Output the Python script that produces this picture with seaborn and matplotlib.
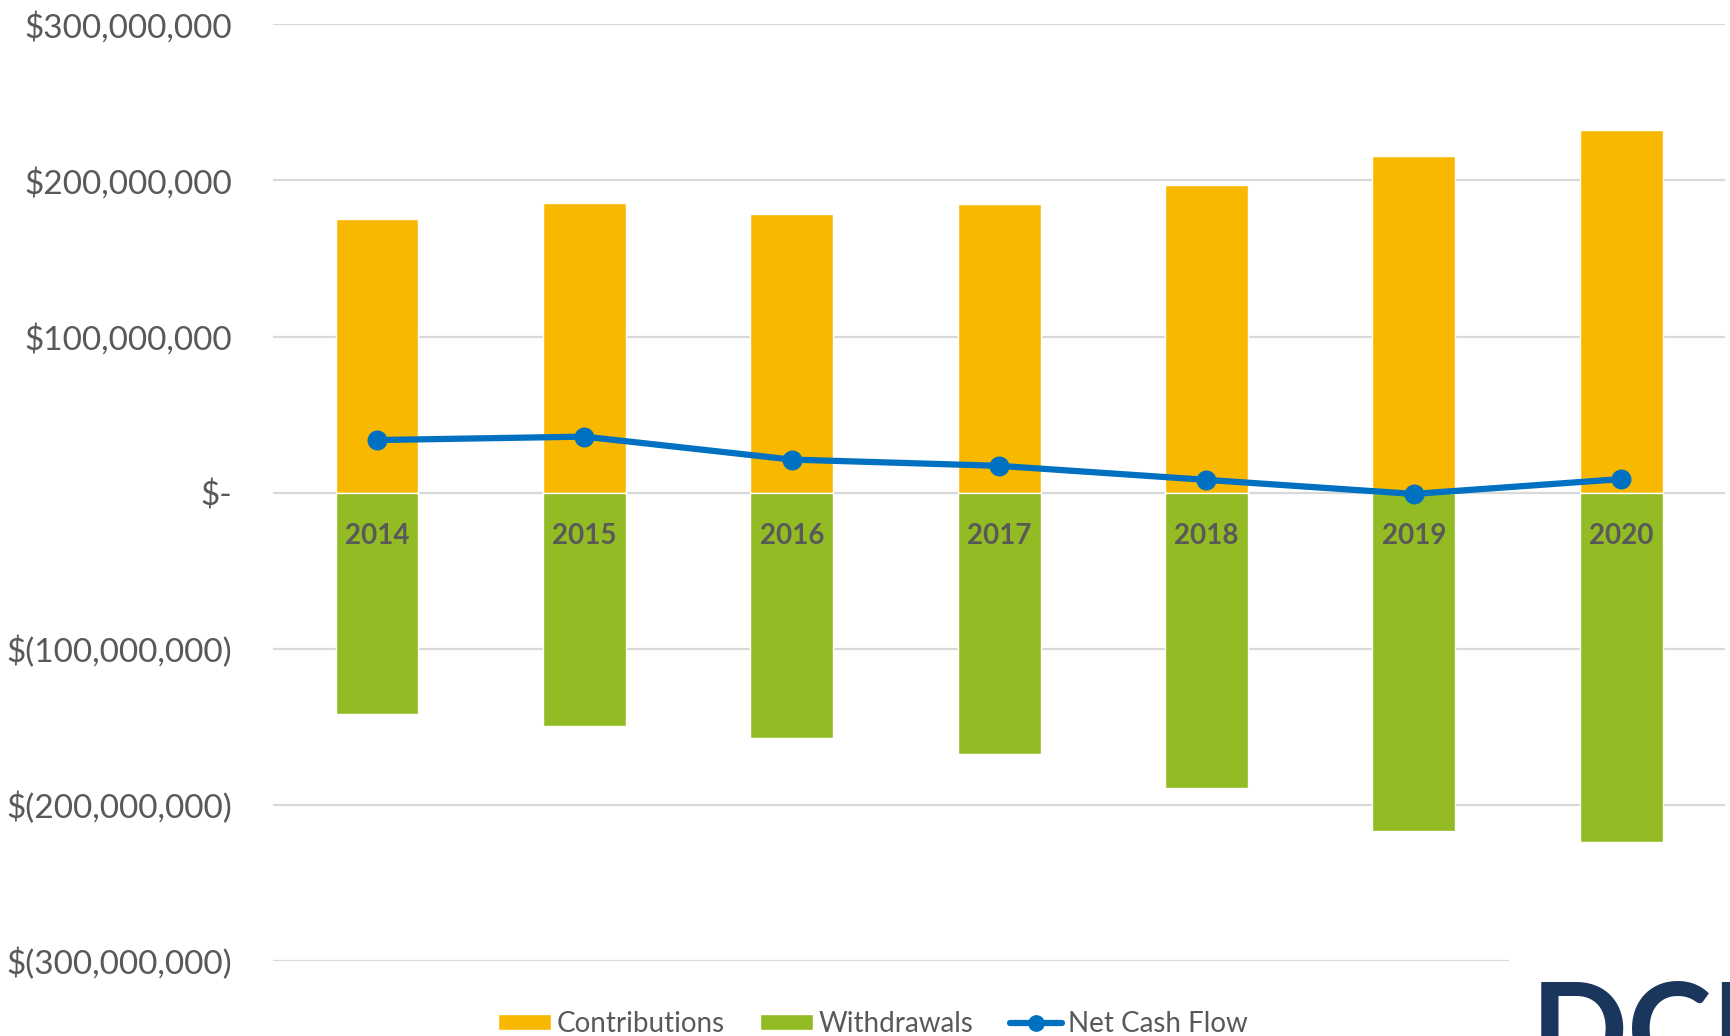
import numpy as np
import pandas as pd
import seaborn as sns
import matplotlib.pyplot as plt
from matplotlib.patches import Patch, Rectangle
from matplotlib.lines import Line2D

# Data (in millions of dollars)
years = ['2014', '2015', '2016', '2017', '2018', '2019', '2020']
contributions = [175.2, 185.3, 178.4, 184.8, 197.0, 215.4, 232.2]
withdrawals = [-141.5, -149.2, -156.9, -167.6, -189.1, -216.5, -223.5]
net_cash_flow = [33.7, 35.9, 21.2, 17.2, 8.2, -0.8, 8.7]
y_ticks = [300, 200, 100, 0, -100, -200, -300]

df = pd.DataFrame({
    'year': years,
    'Contributions': np.array(contributions) * 1e6,
    'Withdrawals': np.array(withdrawals) * 1e6,
    'Net Cash Flow': np.array(net_cash_flow) * 1e6,
})

ORANGE = '#F9B800'
GREEN = '#92BB24'
BLUE = '#0070C0'
GREY = '#595959'

sns.set_style('white')
plt.rcParams['font.family'] = ['Lato', 'DejaVu Sans']

fig = plt.figure(figsize=(17.3, 10.36), dpi=100)
ax = fig.add_axes([0.158, 0.0724, 0.839, 0.9041])

sns.barplot(data=df, x='year', y='Contributions', color=ORANGE, saturation=1,
            width=0.4, ax=ax, zorder=2)
sns.barplot(data=df, x='year', y='Withdrawals', color=GREEN, saturation=1,
            width=0.4, ax=ax, zorder=2)
sns.pointplot(data=df, x='year', y='Net Cash Flow', color=BLUE, markers='o',
              markersize=11, linewidth=4.5, ax=ax)
for ln in ax.lines:
    ln.set_linewidth(4.5)
    ln.set_zorder(4)
for c in ax.collections:
    c.set_zorder(4)

ax.set_xlim(-0.5, 6.5)
ax.set_ylim(-300e6, 300e6)
ax.set_yticks([v * 1e6 for v in y_ticks])

def fmt(v):
    if v > 0:
        return '${:,.0f}'.format(v * 1e6)
    if v < 0:
        return '$({:,.0f})'.format(-v * 1e6)
    return '$-'

ax.set_yticklabels([fmt(v) for v in y_ticks], fontsize=24, color=GREY)
ax.tick_params(axis='y', length=0, pad=30)
ax.grid(axis='y', color='#D9D9D9', linewidth=1.6)
ax.set_axisbelow(True)

for s in ax.spines.values():
    s.set_visible(False)
ax.set_xticks([])
ax.set_xlabel('')
ax.set_ylabel('')

# year labels sit just below the zero line, on top of the bars
for i, yr in enumerate(years):
    ax.annotate(yr, xy=(i, 0), xytext=(0, -31), textcoords='offset points',
                ha='center', va='center', fontsize=20, fontweight='bold',
                color=GREY, zorder=5)

handles = [
    Patch(facecolor=ORANGE, label='Contributions'),
    Patch(facecolor=GREEN, label='Withdrawals'),
    Line2D([0], [0], color=BLUE, lw=4.5, marker='o', markersize=11, label='Net Cash Flow'),
]
leg = fig.legend(handles=handles, loc='lower center', bbox_to_anchor=(0.5045, -0.025),
                 ncol=3, frameon=False, fontsize=20, handlelength=1.9, handleheight=0.55,
                 handletextpad=0.2, columnspacing=1.3, labelcolor=GREY)

# logo area in the corner
fig.patches.append(Rectangle((0.872, 0), 0.128, 0.082, transform=fig.transFigure,
                             facecolor='white', edgecolor='none', zorder=3))
fig.text(0.885, 0.054, 'DCI', fontsize=92, fontweight='bold', color='#1B365D',
         va='top', ha='left', zorder=4)

fig.savefig('out.png', dpi=100)
